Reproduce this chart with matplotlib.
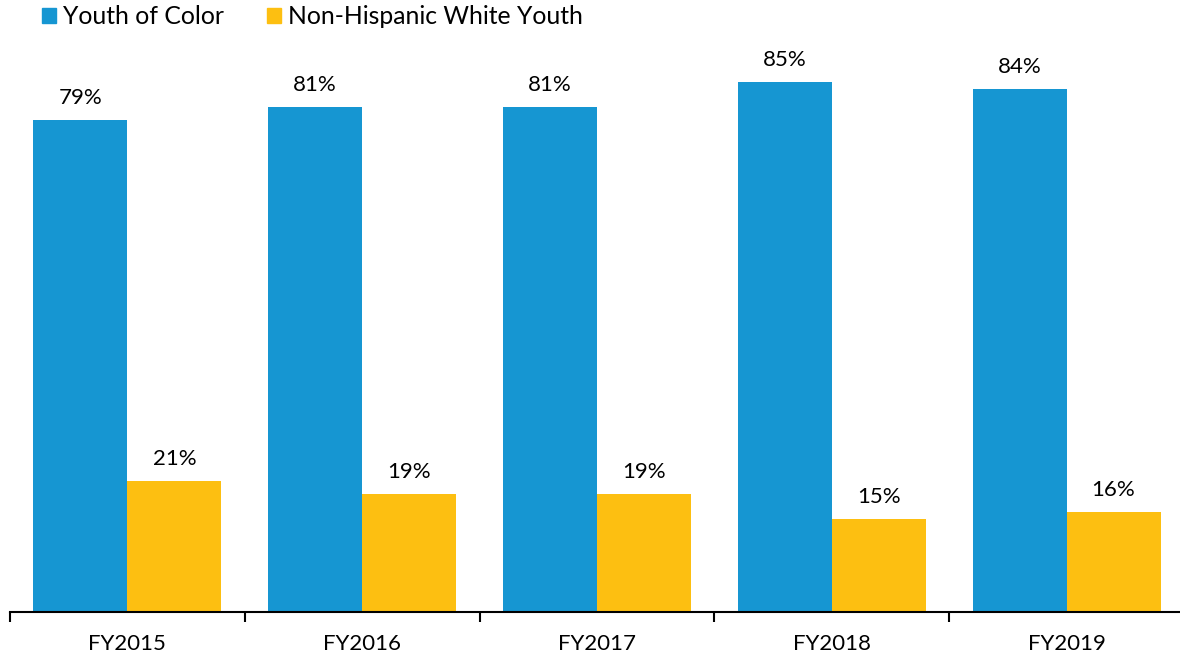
import matplotlib
matplotlib.use("Agg")
import matplotlib.pyplot as plt
from matplotlib.patches import Patch
import numpy as np

years = ["FY2015", "FY2016", "FY2017", "FY2018", "FY2019"]
youth_of_color = [79, 81, 81, 85, 84]
white_youth = [21, 19, 19, 15, 16]
series_names = ["Youth of Color", "Non-Hispanic White Youth"]

BLUE = "#1696d2"
YELLOW = "#fdbf11"

plt.rcParams["font.family"] = ["Lato", "DejaVu Sans"]

W, H = 1180, 655
fig = plt.figure(figsize=(W / 100, H / 100), dpi=100)
base = 612
px_per_pct = 6.23
ymax = 90
ax = fig.add_axes([10 / W, (H - base) / H, 1170 / W, ymax * px_per_pct / H])

x = np.arange(len(years))
bw = 0.4
b1 = ax.bar(x - bw / 2, youth_of_color, bw, color=BLUE)
b2 = ax.bar(x + bw / 2, white_youth, bw, color=YELLOW)

for bars, vals in ((b1, youth_of_color), (b2, white_youth)):
    for r, v in zip(bars, vals):
        ax.annotate(f"{v}%", (r.get_x() + r.get_width() / 2, v),
                    xytext=(0, 11.5), textcoords="offset points",
                    ha="center", va="baseline", fontsize=16, color="#000000")

ax.set_xlim(-0.5, 4.5 - 4 / 235)
ax.set_ylim(0, ymax)
ax.set_yticks([])
for s in ("top", "right", "left"):
    ax.spines[s].set_visible(False)
ax.spines["bottom"].set_linewidth(1.5)
ax.spines["bottom"].set_color("#000000")

ax.set_xticks(x)
ax.set_xticklabels(years, fontsize=16)
ax.tick_params(axis="x", length=0, pad=15.5)
ax.set_xticks(np.arange(len(years)) - 0.5, minor=True)
ax.tick_params(axis="x", which="minor", length=7, width=1.5, color="#000000")

handles = [Patch(color=BLUE, label=series_names[0]),
           Patch(color=YELLOW, label=series_names[1])]
fig.legend(handles=handles, loc="upper left", bbox_to_anchor=(42 / W, 1 - 5 / H),
           ncol=2, frameon=False, fontsize=17.8, handlelength=0.57, handleheight=0.57,
           handletextpad=0.28, columnspacing=1.75, borderaxespad=0, borderpad=0)

fig.savefig("out.png", dpi=100)
